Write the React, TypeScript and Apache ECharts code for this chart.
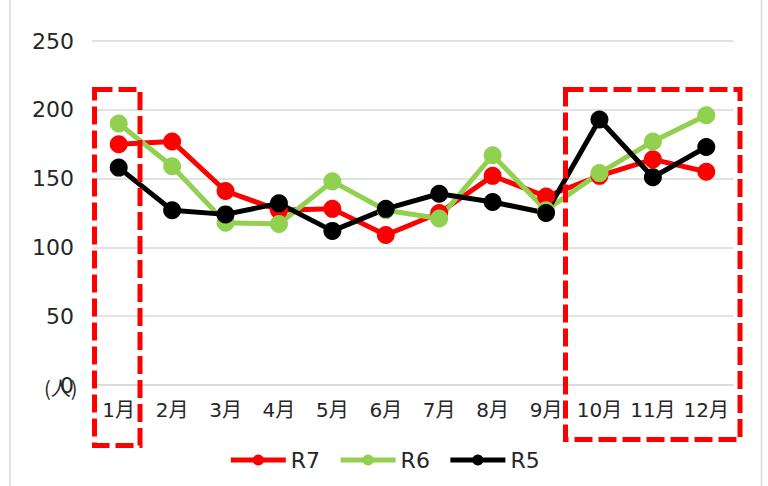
import React, { useEffect, useRef } from "react";
import * as echarts from "echarts";

const months = ["1月", "2月", "3月", "4月", "5月", "6月", "7月", "8月", "9月", "10月", "11月", "12月"];
const r7 = [175, 177, 141, 127, 128, 109, 125, 152, 137, 152, 164, 155];
const r6 = [190, 159, 118, 117, 148, 127, 121, 167, 127, 154, 177, 196];
const r5 = [158, 127, 124, 132, 112, 128, 139, 133, 125, 193, 151, 173];
const yTicks = { min: 0, max: 250, interval: 50 };

const FONT = "'DejaVu Sans', 'Noto Sans CJK JP', sans-serif";

export default function App() {
  const ref = useRef<HTMLDivElement>(null);
  useEffect(() => {
    if (!ref.current) return;
    const chart = echarts.init(ref.current, null, { renderer: "svg" });
    const mk = (name: string, data: number[], color: string) => ({
      name,
      type: "line",
      data,
      symbol: "circle",
      symbolSize: 18,
      lineStyle: { color, width: 5 },
      itemStyle: { color },
      emphasis: { disabled: true },
    });
    chart.setOption({
      animation: false,
      backgroundColor: "#ffffff",
      grid: { left: 92, right: 35, top: 41, bottom: 101, containLabel: false },
      xAxis: {
        type: "category",
        data: months,
        boundaryGap: true,
        axisLine: { show: true, lineStyle: { color: "#d9d9d9", width: 1.5 } },
        axisTick: { show: false },
        axisLabel: { color: "#262626", fontSize: 20, fontFamily: FONT, margin: 15, interval: 0 },
      },
      yAxis: {
        type: "value",
        min: yTicks.min,
        max: yTicks.max,
        interval: yTicks.interval,
        axisLine: { show: false },
        axisTick: { show: false },
        splitLine: { lineStyle: { color: "#d9d9d9", width: 1.5 } },
        axisLabel: { color: "#262626", fontSize: 22, fontFamily: FONT, margin: 18 },
      },
      legend: {
        bottom: 10,
        left: "center",
        itemWidth: 55,
        itemHeight: 14,
        itemGap: 18,
        lineStyle: { width: 5 },
        textStyle: { color: "#262626", fontSize: 22, fontFamily: FONT },
        data: ["R7", "R6", "R5"],
      },
      graphic: [
        {
          type: "rect",
          shape: { x: 10, y: -5, width: 751.5, height: 500 },
          style: { fill: "none", stroke: "#d9d9d9", lineWidth: 1.5 },
          silent: true,
        },
        {
          type: "text",
          x: 44,
          y: 387,
          style: {
            text: "(人)",
            fontSize: 20,
            fontFamily: "'Noto Sans CJK JP', sans-serif",
            fill: "#262626",
            verticalAlign: "middle",
          },
          silent: true,
        },
        {
          type: "rect",
          shape: { x: 94.5, y: 89.5, width: 45.5, height: 356 },
          style: { fill: "none", stroke: "#ff0000", lineWidth: 5, lineDash: [18, 6] },
          silent: true,
          z: 100,
        },
        {
          type: "rect",
          shape: { x: 565.5, y: 89.5, width: 174.5, height: 350 },
          style: { fill: "none", stroke: "#ff0000", lineWidth: 5, lineDash: [18, 6] },
          silent: true,
          z: 100,
        },
      ],
      series: [mk("R7", r7, "#ff0000"), mk("R6", r6, "#92d050"), mk("R5", r5, "#000000")],
    });
    return () => chart.dispose();
  }, []);
  return <div ref={ref} style={{ width: 768, height: 486, position: "absolute", left: 0, top: 0 }} />;
}
